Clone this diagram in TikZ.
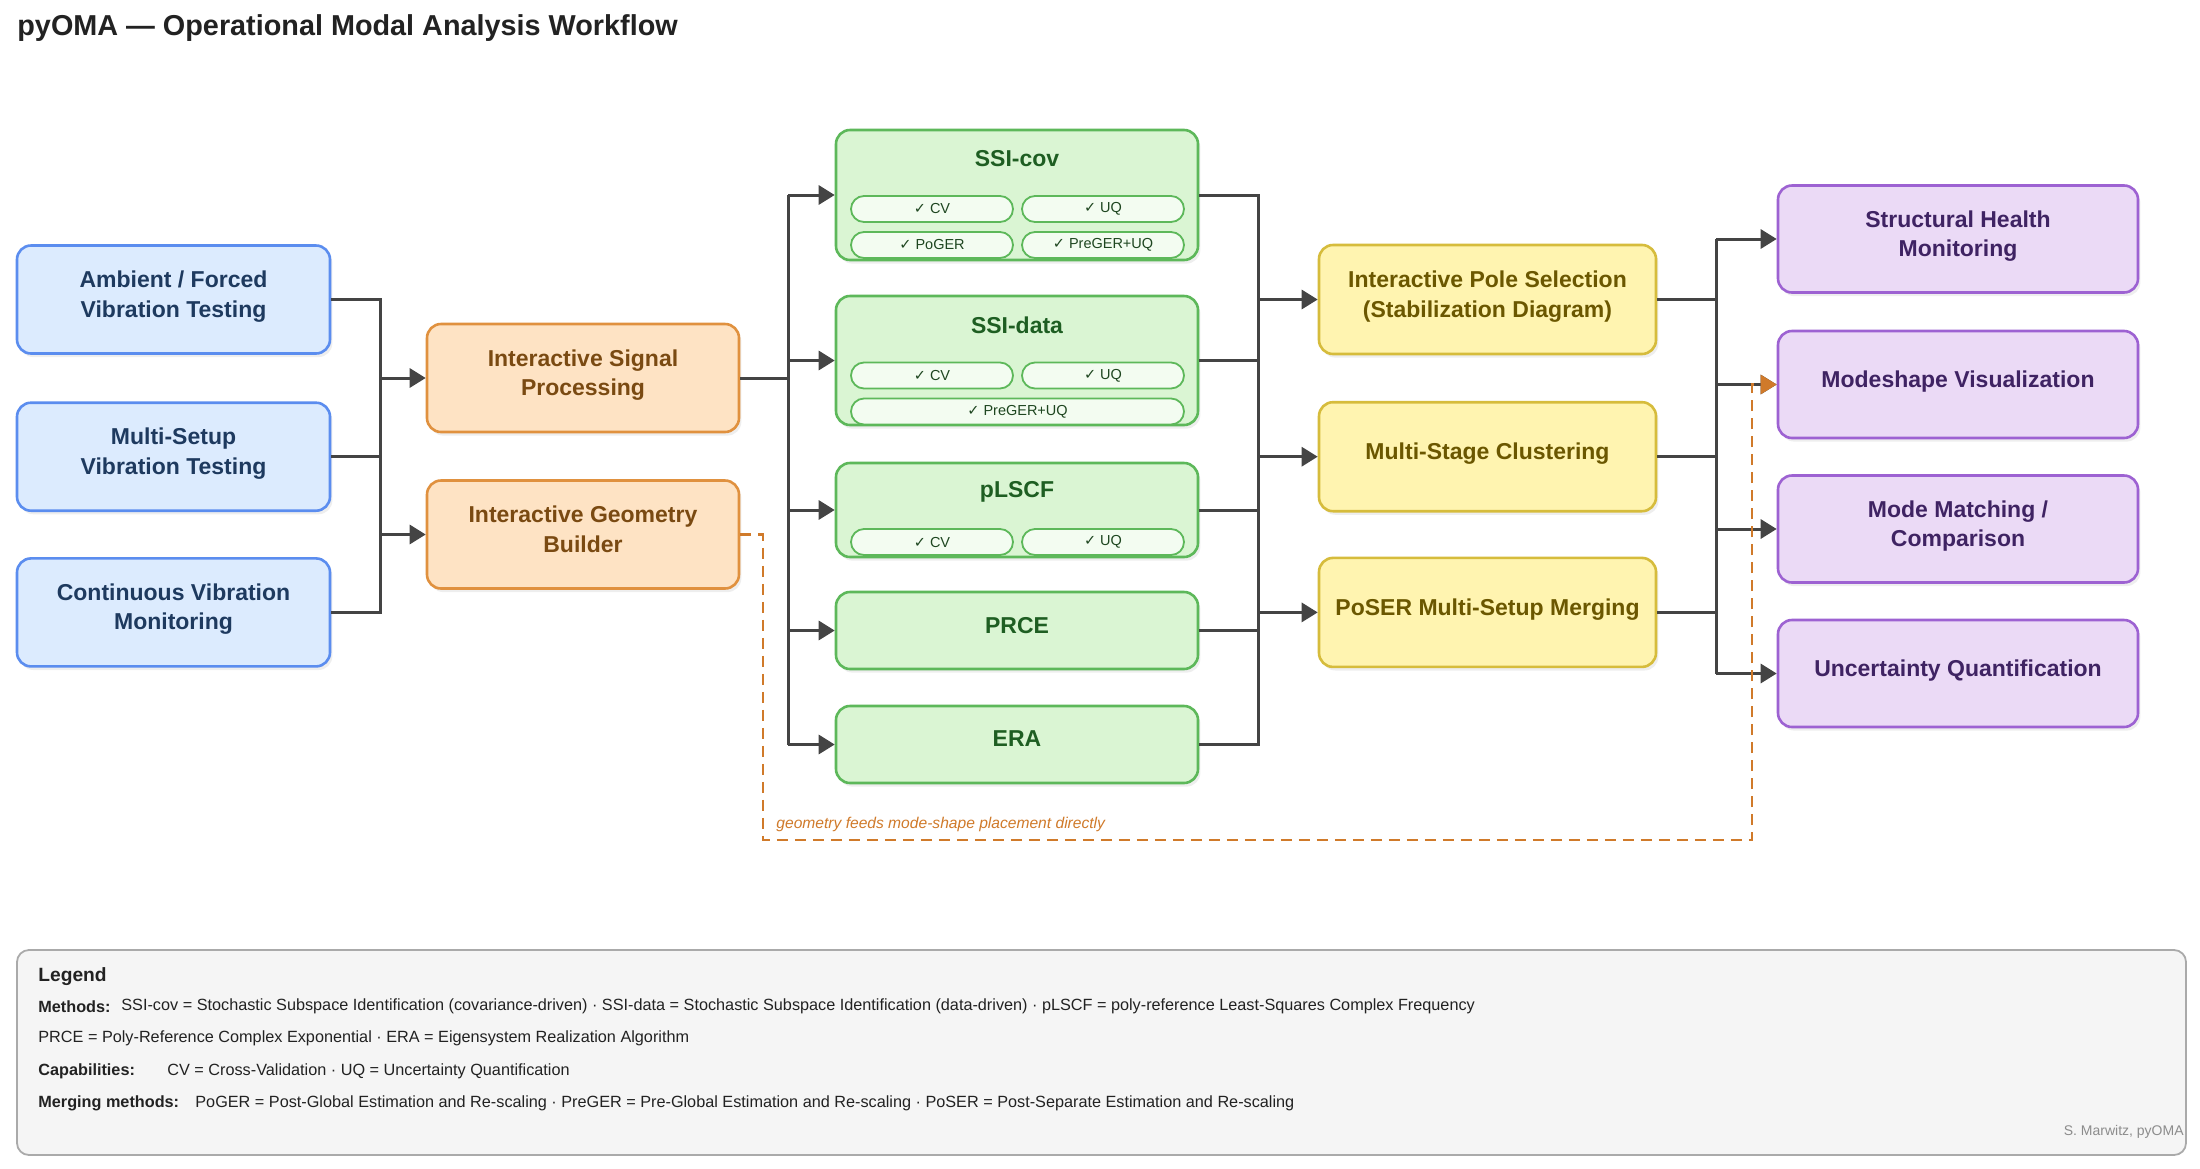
\documentclass[tikz,border=0pt]{standalone}
\usepackage{fontspec}
\setmainfont{Liberation Sans}
\newfontfamily\chk{DejaVu Sans}
\usetikzlibrary{arrows.meta,shadows}
\definecolor{bluefill}{HTML}{DCEBFE}
\definecolor{blueline}{HTML}{5B8DEF}
\definecolor{bluetext}{HTML}{1E3A5F}
\definecolor{orfill}{HTML}{FEE3C4}
\definecolor{orline}{HTML}{E0913F}
\definecolor{ortext}{HTML}{7A4A12}
\definecolor{grfill}{HTML}{DAF5D3}
\definecolor{grline}{HTML}{5DB85A}
\definecolor{grtext}{HTML}{1E5E22}
\definecolor{chipfill}{HTML}{F3FCF1}
\definecolor{chiptext}{HTML}{1E4620}
\definecolor{yefill}{HTML}{FFF4B0}
\definecolor{yeline}{HTML}{D6BC3C}
\definecolor{yetext}{HTML}{6B5700}
\definecolor{pufill}{HTML}{EBDAF6}
\definecolor{puline}{HTML}{9D62D2}
\definecolor{putext}{HTML}{3F2363}
\definecolor{conncol}{HTML}{444444}
\definecolor{geodash}{HTML}{D07A2A}
\definecolor{legfill}{HTML}{F5F5F5}
\definecolor{legline}{HTML}{AAAAAA}
\definecolor{titlec}{HTML}{222222}
\tikzset{
  box/.style={rounded corners=7pt, line width=1.3pt, align=center, inner sep=0pt,
    font=\fontsize{11.5pt}{14.75pt}\selectfont\bfseries, text depth=5.5pt,
    drop shadow={shadow xshift=1.2pt, shadow yshift=-1.8pt, opacity=0.13}},
  bluebox/.style={box, fill=bluefill, draw=blueline, text=bluetext, minimum width=156.5pt, minimum height=54pt},
  orbox/.style={box, fill=orfill, draw=orline, text=ortext, minimum width=156pt, minimum height=54pt},
  grbox/.style={box, fill=grfill, draw=grline, text=grtext, minimum width=181pt},
  yebox/.style={box, fill=yefill, draw=yeline, text=yetext, minimum width=168.5pt, minimum height=54.5pt},
  pubox/.style={box, fill=pufill, draw=puline, text=putext, minimum width=180pt, minimum height=53.5pt},
  gtitle/.style={inner sep=0pt, text=grtext, font=\fontsize{11.5pt}{14pt}\selectfont\bfseries},
  chip/.style={draw=grline, fill=chipfill, line width=0.9pt, rounded corners=6.5pt, minimum width=81pt,
    minimum height=13pt, inner sep=0pt, text=chiptext, font=\fontsize{7.25pt}{8pt}\selectfont},
  widechip/.style={chip, minimum width=166.5pt},
  conn/.style={draw=conncol, line width=1.5pt},
  arr/.style={conn, -{Triangle[length=8pt,width=9.5pt]}},
  gdash/.style={draw=geodash, line width=1.2pt, dash pattern=on 5.5pt off 3.5pt,
    -{Triangle[length=8pt,width=9.5pt]}},
  legt/.style={anchor=west, inner sep=0pt, text=titlec, font=\fontsize{8.12pt}{10pt}\selectfont},
  legb/.style={legt, font=\fontsize{8.12pt}{10pt}\selectfont\bfseries},
}
\begin{document}
\begin{tikzpicture}[x=0.5pt, y=-0.5pt]
\useasboundingbox (0,0) rectangle (2200,1168);
\fill[white] (0,0) rectangle (2200,1168);
% title
\node[anchor=west, inner sep=0pt, text=titlec, font=\fontsize{14.4pt}{17pt}\selectfont\bfseries] (title) at (17,28) {pyOMA — Operational Modal Analysis Workflow};
% inputs
\node[bluebox] (amb) at (173.5,299.5) {Ambient / Forced\\Vibration Testing};
\node[bluebox] (mul) at (173.5,456.7) {Multi-Setup\\Vibration Testing};
\node[bluebox] (con) at (173.5,612.4) {Continuous Vibration\\Monitoring};
% preprocessing
\node[orbox] (sig) at (583,378) {Interactive Signal\\Processing};
\node[orbox] (geo) at (583,534.5) {Interactive Geometry\\Builder};
% methods
\node[grbox, minimum height=65pt] (cov) at (1017,195) {};
\node[gtitle] (covt) at (1017,159) {SSI-cov};
\node[chip] (covc1) at (932,209) {{\chk ✓} CV};
\node[chip] (covc2) at (1103,209) {{\chk ✓} UQ};
\node[chip] (covc3) at (932,245) {{\chk ✓} PoGER};
\node[chip] (covc4) at (1103,245) {{\chk ✓} PreGER+UQ};
\node[grbox, minimum height=64.5pt] (dat) at (1017,360.5) {};
\node[gtitle] (datt) at (1017,325) {SSI-data};
\node[chip] (datc1) at (932,375.5) {{\chk ✓} CV};
\node[chip] (datc2) at (1103,375.5) {{\chk ✓} UQ};
\node[widechip] (datc3) at (1017.5,411.5) {{\chk ✓} PreGER+UQ};
\node[grbox, minimum height=47pt] (lscf) at (1017,510) {};
\node[gtitle] (lscft) at (1017,492) {pLSCF};
\node[chip] (lscfc1) at (932,542) {{\chk ✓} CV};
\node[chip] (lscfc2) at (1103,542) {{\chk ✓} UQ};
\node[grbox, minimum height=38.5pt] (prce) at (1017,630.5) {PRCE};
\node[grbox, minimum height=38.5pt] (era) at (1017,744.5) {ERA};
% post-processing
\node[yebox] (pole) at (1487.5,299.5) {Interactive Pole Selection\\(Stabilization Diagram)};
\node[yebox] (clu) at (1487.5,456.7) {Multi-Stage Clustering};
\node[yebox] (pos) at (1487.5,612.4) {PoSER Multi-Setup Merging};
% applications
\node[pubox] (shm) at (1958,239) {Structural Health\\Monitoring};
\node[pubox] (mod) at (1958,384.5) {Modeshape Visualization};
\node[pubox] (mat) at (1958,529) {Mode Matching /\\Comparison};
\node[pubox] (uq) at (1958,673.5) {Uncertainty Quantification};
% buses
\coordinate (bus1) at (380,0);
\coordinate (bus2) at (788,0);
\coordinate (bus3) at (1258,0);
\coordinate (bus4) at (1716,0);
% inputs -> preprocessing
\draw[conn] (amb.east) -- (amb.east -| bus1) -- (con.east -| bus1) -- (con.east);
\draw[conn] (mul.east) -- (mul.east -| bus1);
\draw[arr] (sig.west -| bus1) -- (sig.west);
\draw[arr] (geo.west -| bus1) -- (geo.west);
% signal -> methods
\draw[conn] (sig.east) -- (sig.east -| bus2);
\draw[conn] (cov.west -| bus2) -- (era.west -| bus2);
\foreach \n in {cov,dat,lscf,prce,era} \draw[arr] (\n.west -| bus2) -- (\n.west);
% methods -> post
\draw[conn] (cov.east) -- (cov.east -| bus3) -- (era.east -| bus3) -- (era.east);
\foreach \n in {dat,lscf,prce} \draw[conn] (\n.east) -- (\n.east -| bus3);
\foreach \n in {pole,clu,pos} \draw[arr] (\n.west -| bus3) -- (\n.west);
% post -> applications
\foreach \n in {pole,clu,pos} \draw[conn] (\n.east) -- (\n.east -| bus4);
\draw[conn] (shm.west -| bus4) -- (uq.west -| bus4);
\foreach \n in {shm,mod,mat,uq} \draw[arr] (\n.west -| bus4) -- (\n.west);
% geometry dashed link
\coordinate (dA) at (763,840);
\coordinate (dB) at (1752,840);
\draw[gdash] (geo.east) -| (dA) -- (dB) |- (mod.west);
\node[anchor=west, inner sep=0pt, text=geodash, font=\fontsize{7.8pt}{9pt}\selectfont\itshape] (glab) at (776,824) {geometry feeds mode-shape placement directly};
% legend
\node[draw=legline, fill=legfill, rounded corners=6pt, line width=0.9pt, minimum width=1084.5pt, minimum height=102.5pt, inner sep=0pt] (leg) at (1101.5,1052.5) {};
\node[anchor=west, inner sep=0pt, text=titlec, font=\fontsize{9.6pt}{11pt}\selectfont\bfseries] (legtitle) at (38,976.5) {Legend};
\node[legb] (lm) at (38,1006.5) {Methods:};
\node[legt] (lmt) at (121,1006.5) {SSI-cov = Stochastic Subspace Identification (covariance-driven) · SSI-data = Stochastic Subspace Identification (data-driven) · pLSCF = poly-reference Least-Squares Complex Frequency};
\node[legt] (lm2) at (38,1038.5) {PRCE = Poly-Reference Complex Exponential · ERA = Eigensystem Realization Algorithm};
\node[legb] (lc) at (38,1071.5) {Capabilities:};
\node[legt] (lct) at (167,1071.5) {CV = Cross-Validation · UQ = Uncertainty Quantification};
\node[legb] (lg) at (38,1103.5) {Merging methods:};
\node[legt] (lgt) at (195,1103.5) {PoGER = Post-Global Estimation and Re-scaling · PreGER = Pre-Global Estimation and Re-scaling · PoSER = Post-Separate Estimation and Re-scaling};
\node[anchor=east, inner sep=0pt, text=black!45, font=\fontsize{7pt}{8pt}\selectfont] (cred) at (2184,1132) {S. Marwitz, pyOMA};
\end{tikzpicture}
\end{document}
